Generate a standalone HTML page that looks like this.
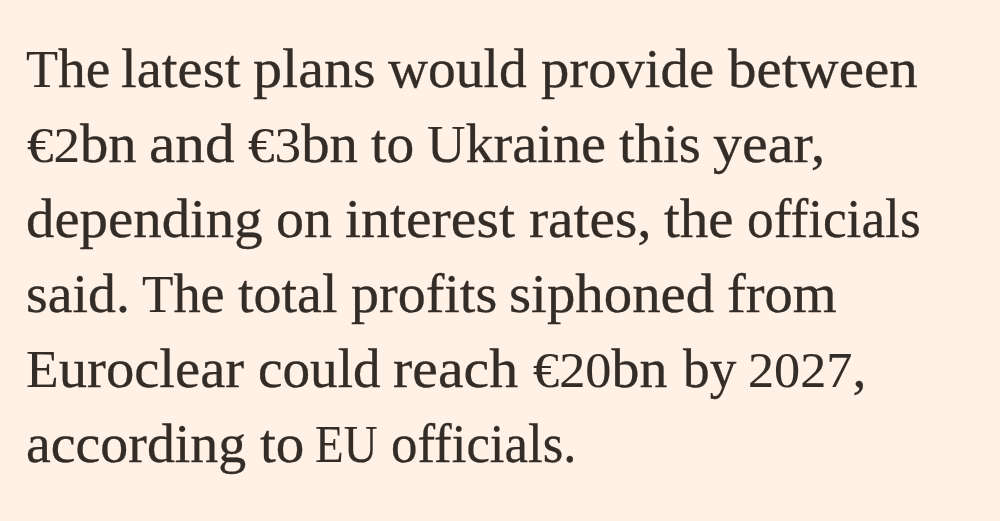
<!DOCTYPE html>
<html><head><meta charset="utf-8">
<style>
html,body{margin:0;padding:0;background:#FFF1E5;width:1000px;height:521px;overflow:hidden;position:relative}
.w{position:absolute;font-family:"Liberation Serif",serif;color:#332C27;font-size:55px;line-height:0;white-space:nowrap;transform-origin:0 0;-webkit-text-stroke:0.3px #332C27;}
.c{font-size:52px;-webkit-text-stroke-width:0.1px}.d{font-size:51.5px;-webkit-text-stroke-width:0.1px}
</style></head><body>
<div class="w" style="left:26.39px;top:68.70px;transform:scaleX(1.0087)"><span class="c">T</span>he</div>
<div class="w" style="left:121.31px;top:68.70px;transform:scaleX(1.0290)">latest</div>
<div class="w" style="left:253.01px;top:68.70px;transform:scaleX(1.0570)">plans</div>
<div class="w" style="left:388.48px;top:68.70px;transform:scaleX(1.0094)">would</div>
<div class="w" style="left:540.52px;top:68.70px;transform:scaleX(1.0301)">provide</div>
<div class="w" style="left:727.59px;top:68.70px;transform:scaleX(1.0353)">between</div>
<div class="w" style="left:27.21px;top:144.10px;transform:scaleX(1.0300)"><span class="d">€2</span>bn</div>
<div class="w" style="left:149.15px;top:144.10px;transform:scaleX(1.0777)">and</div>
<div class="w" style="left:248.17px;top:144.10px;transform:scaleX(1.0319)"><span class="d">€3</span>bn</div>
<div class="w" style="left:371.35px;top:144.10px;transform:scaleX(1.0083)">to</div>
<div class="w" style="left:426.57px;top:144.10px;transform:scaleX(1.0234)"><span class="c">U</span>kraine</div>
<div class="w" style="left:618.70px;top:144.10px;transform:scaleX(1.0310)">this</div>
<div class="w" style="left:713.28px;top:144.10px;transform:scaleX(1.0562)">year,</div>
<div class="w" style="left:26.39px;top:219.00px;transform:scaleX(1.0328)">depending</div>
<div class="w" style="left:275.60px;top:219.00px;transform:scaleX(1.0156)">on</div>
<div class="w" style="left:345.26px;top:219.00px;transform:scaleX(1.0503)">interest</div>
<div class="w" style="left:528.62px;top:219.00px;transform:scaleX(1.0426)">rates,</div>
<div class="w" style="left:664.26px;top:219.00px;transform:scaleX(1.0371)">the</div>
<div class="w" style="left:747.41px;top:219.00px;transform:scaleX(0.9688)">officials</div>
<div class="w" style="left:25.52px;top:293.90px;transform:scaleX(1.0150)">said.</div>
<div class="w" style="left:141.76px;top:293.90px;transform:scaleX(0.9891)"><span class="c">T</span>he</div>
<div class="w" style="left:238.30px;top:293.90px;transform:scaleX(1.0172)">total</div>
<div class="w" style="left:350.71px;top:293.90px;transform:scaleX(1.0179)">profits</div>
<div class="w" style="left:508.72px;top:293.90px;transform:scaleX(1.0334)">siphoned</div>
<div class="w" style="left:727.41px;top:293.90px;transform:scaleX(1.0268)">from</div>
<div class="w" style="left:26.27px;top:368.70px;transform:scaleX(1.0296)"><span class="c">E</span>uroclear</div>
<div class="w" style="left:258.20px;top:368.70px;transform:scaleX(1.0034)">could</div>
<div class="w" style="left:393.48px;top:368.70px;transform:scaleX(1.0506)">reach</div>
<div class="w" style="left:533.37px;top:368.70px;transform:scaleX(1.0158)"><span class="d">€20</span>bn</div>
<div class="w" style="left:682.98px;top:368.70px;transform:scaleX(0.9690)">by</div>
<div class="w" style="left:747.93px;top:368.70px;transform:scaleX(1.0139)"><span class="d">2027</span>,</div>
<div class="w" style="left:26.07px;top:443.50px;transform:scaleX(1.0154)">according</div>
<div class="w" style="left:260.25px;top:443.50px;transform:scaleX(1.0377)">to</div>
<div class="w" style="left:315.04px;top:443.50px;transform:scaleX(0.9016)"><span class="c">EU</span></div>
<div class="w" style="left:390.80px;top:443.50px;transform:scaleX(0.9612)">officials.</div>
</body></html>
